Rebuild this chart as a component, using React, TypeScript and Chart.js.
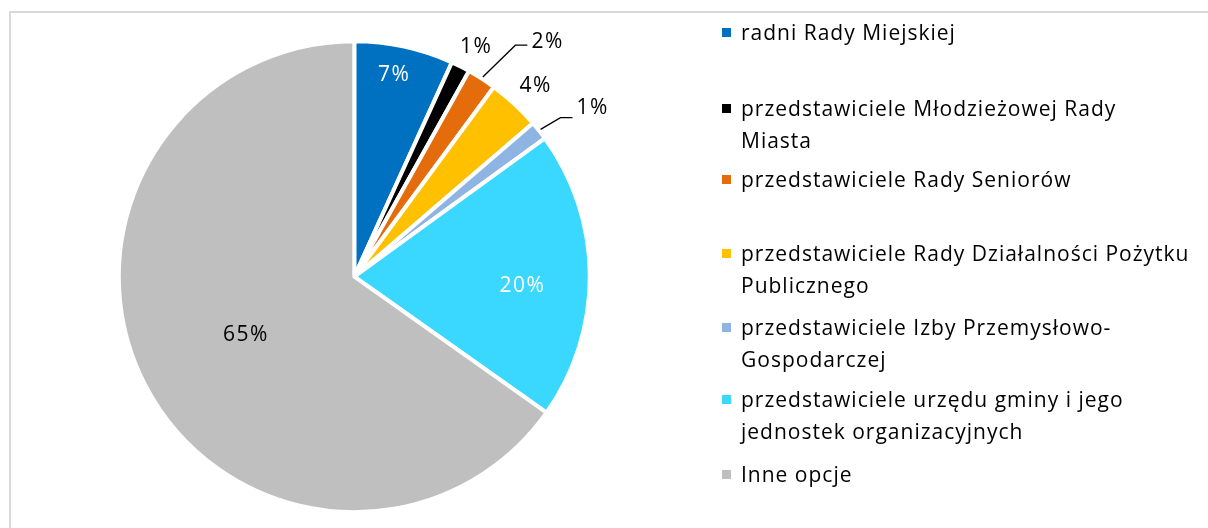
import React, { useEffect, useRef } from "react";
import { Chart, PieController, ArcElement } from "chart.js";

Chart.register(PieController, ArcElement);

// ---- data ----
const CATEGORIES: string[][] = [
  ["radni Rady Miejskiej"],
  ["przedstawiciele Młodzieżowej Rady", "Miasta"],
  ["przedstawiciele Rady Seniorów"],
  ["przedstawiciele Rady Działalności Pożytku", "Publicznego"],
  ["przedstawiciele Izby Przemysłowo-", "Gospodarczej"],
  ["przedstawiciele urzędu gminy i jego", "jednostek organizacyjnych"],
  ["Inne opcje"],
];
const SHARES: number[] = [6.8, 1.3, 2.0, 3.6, 1.3, 19.8, 65.2];
const PERCENT_LABELS: string[] = SHARES.map((v) => Math.round(v) + "%");

// ---- style ----
const COLORS = ["#0070C0", "#000000", "#E46C0A", "#FFC000", "#8EB4E3", "#3AD7FF", "#BFBFBF"];
const LABEL_COLORS = ["#FFFFFF", "#000000", "#000000", "#000000", "#000000", "#FFFFFF", "#000000"];
// label placement: radius factor of visible radius, angle shift (deg), optional leader line offset
const LABEL_LAYOUT: { r: number; da: number; leader?: number }[] = [
  { r: 0.886, da: -1.1 },
  { r: 1.121, da: 0.95 },
  { r: 1.308, da: 6.5, leader: 5 },
  { r: 1.133, da: 0.46 },
  { r: 1.254, da: 2.84, leader: 11 },
  { r: 0.721, da: 3.06 },
  { r: 0.524, da: -0.3 },
];
const LEGEND_BASELINES = [40, 116, 187, 261, 335, 407, 482];
const FONT_FAMILY = "'Open Sans', 'Noto Sans', sans-serif";
const FONT_SIZE = 21;
const LETTER_SPACING = "1px";
const LABEL_FONT_SIZE = 21;
const LABEL_LETTER_SPACING = "1.5px";
const BORDER_W = 4;
const VIS_R = 233.5;
const CX = 354.3;
const CY = 276.7;
const W = 1208;
const H = 528;

const decorPlugin = {
  id: "decor",
  beforeDraw(chart: any) {
    const ctx = chart.ctx as CanvasRenderingContext2D;
    ctx.save();
    ctx.fillStyle = "#FFFFFF";
    ctx.fillRect(0, 0, W, H);
    ctx.fillStyle = "#D9D9D9";
    ctx.fillRect(9, 11, W, 2);
    ctx.fillRect(9, 11, 2, H);
    ctx.restore();
  },
  afterDraw(chart: any) {
    const ctx = chart.ctx as CanvasRenderingContext2D;
    const meta = chart.getDatasetMeta(0);
    ctx.save();
    ctx.font = `${LABEL_FONT_SIZE}px ${FONT_FAMILY}`;
    (ctx as any).letterSpacing = LABEL_LETTER_SPACING;
    const capHalf = (0.714 * LABEL_FONT_SIZE) / 2;
    meta.data.forEach((arc: any, i: number) => {
      const p = arc.getProps(["x", "y", "startAngle", "endAngle", "outerRadius"], true);
      const R = p.outerRadius - BORDER_W / 2;
      const mid = (p.startAngle + p.endAngle) / 2;
      const lay = LABEL_LAYOUT[i];
      const a = mid + (lay.da * Math.PI) / 180;
      const lx = p.x + Math.cos(a) * lay.r * R;
      const ly = p.y + Math.sin(a) * lay.r * R;
      const text = PERCENT_LABELS[i];
      const w = ctx.measureText(text).width;
      if (lay.leader !== undefined) {
        const sx = p.x + Math.cos(mid) * (R + 4);
        const sy = p.y + Math.sin(mid) * (R + 4);
        const ex = lx - w / 2 - 4;
        const ey = ly + lay.leader;
        ctx.strokeStyle = "#000000";
        ctx.lineWidth = 1.3;
        ctx.beginPath();
        ctx.moveTo(sx, sy);
        ctx.lineTo(ex - 12, ey);
        ctx.lineTo(ex, ey);
        ctx.stroke();
      }
      ctx.fillStyle = LABEL_COLORS[i];
      ctx.textAlign = "center";
      ctx.textBaseline = "alphabetic";
      ctx.fillText(text, lx, ly + capHalf);
    });
    // legend
    ctx.font = `${FONT_SIZE}px ${FONT_FAMILY}`;
    (ctx as any).letterSpacing = LETTER_SPACING;
    ctx.textAlign = "left";
    ctx.textBaseline = "alphabetic";
    CATEGORIES.forEach((lines, i) => {
      const base = LEGEND_BASELINES[i];
      ctx.fillStyle = COLORS[i];
      ctx.fillRect(722, base - 12, 9, 9);
      ctx.fillStyle = "#000000";
      lines.forEach((ln, k) => {
        ctx.fillText(ln, 741, base + k * 31.7);
      });
    });
    ctx.restore();
  },
};

export default function App() {
  const ref = useRef<HTMLCanvasElement | null>(null);
  useEffect(() => {
    if (!ref.current) return;
    const padL = 100;
    const padT = 30;
    const chart = new Chart(ref.current, {
      type: "pie",
      data: {
        labels: CATEGORIES.map((l) => l.join(" ")),
        datasets: [
          {
            data: SHARES,
            backgroundColor: COLORS,
            borderColor: "#FFFFFF",
            borderWidth: BORDER_W,
          },
        ],
      },
      options: {
        responsive: false,
        maintainAspectRatio: false,
        animation: false,
        radius: VIS_R + BORDER_W / 2,
        layout: {
          padding: {
            left: padL,
            top: padT,
            right: W - (2 * CX - padL),
            bottom: H - (2 * CY - padT),
          },
        },
        plugins: { legend: { display: false }, tooltip: { enabled: false } },
      } as any,
      plugins: [decorPlugin],
    });
    return () => chart.destroy();
  }, []);
  return (
    <div style={{ position: "fixed", left: 0, top: 0, width: W, height: H, overflow: "hidden", background: "#fff" }}>
      <canvas ref={ref} width={W} height={H} style={{ display: "block", width: W, height: H }} />
    </div>
  );
}
